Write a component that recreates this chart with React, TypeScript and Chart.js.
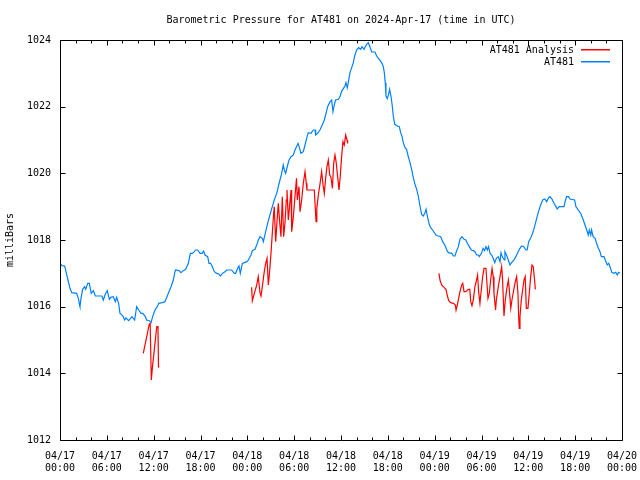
import React, { useEffect, useRef } from "react";
import { Chart, registerables } from "chart.js";

Chart.register(...registerables);

const TITLE = "Barometric Pressure for AT481 on 2024-Apr-17 (time in UTC)";
const Y_TITLE = "milliBars";
const SERIES_ANALYSIS = "AT481 Analysis";
const SERIES_OBS = "AT481";

const X_TICK_DATES = ["04/17", "04/17", "04/17", "04/17", "04/18", "04/18", "04/18", "04/18", "04/19", "04/19", "04/19", "04/19", "04/20"];
const X_TICK_TIMES = ["00:00", "06:00", "12:00", "18:00", "00:00", "06:00", "12:00", "18:00", "00:00", "06:00", "12:00", "18:00", "00:00"];
const X_MIN = 0;
const X_MAX = 72;
const X_STEP = 6;
const X_MINOR_STEP = 2;
const Y_MIN = 1012;
const Y_MAX = 1024;
const Y_STEP = 2;

// Observed pressure (hours since 04/17 00:00 UTC, mb)
const obsHours = [
  0, 0.26, 0.6, 0.77, 1.02, 1.28, 1.5, 2.13, 2.39, 2.5, 2.56, 2.69, 2.9, 3.16, 3.3, 3.55, 3.76, 4.0, 4.27, 4.53,
  5.38, 5.55, 5.81, 6.06, 6.32, 6.5, 6.83, 7.09, 7.26, 7.51, 7.69, 8.03, 8.28, 8.45, 8.8, 9.22, 9.56, 9.82, 10.08, 10.38,
  10.6, 10.93, 11.1, 11.44, 11.66, 11.87, 12.21, 12.51, 12.64, 13.1, 13.45, 13.71, 13.96, 14.22, 14.52, 14.73, 14.82, 15.24, 15.5, 15.8,
  16.1, 16.44, 16.7, 16.96, 17.21, 17.38, 17.64, 17.94, 18.2, 18.4, 18.57, 18.92, 19.09, 19.3, 19.52, 19.77, 20.07, 20.35, 20.54, 20.8,
  21.14, 21.35, 22.0, 22.33, 22.5, 22.76, 22.93, 23.1, 23.36, 23.7, 23.96, 24.13, 24.47, 24.64, 24.98, 25.2, 25.41, 25.62, 25.92, 26.05,
  26.35, 26.6, 26.9, 27.2, 27.45, 27.76, 27.97, 28.18, 28.4, 28.6, 28.74, 28.91, 29.17, 29.34, 29.6, 29.9, 30.1, 30.3, 30.5, 30.7,
  30.87, 31.17, 31.39, 31.6, 31.8, 32.15, 32.45, 32.67, 32.76, 33.0, 33.3, 33.6, 33.86, 34.03, 34.29, 34.6, 34.8, 34.97, 35.14, 35.3,
  35.66, 35.87, 36.08, 36.3, 36.5, 36.64, 36.8, 36.93, 37.15, 37.37, 37.58, 37.75, 38.0, 38.26, 38.52, 38.69, 38.95, 39.1, 39.3, 39.5,
  39.7, 39.93, 40.35, 40.57, 40.9, 41.2, 41.4, 41.55, 41.67, 41.76, 41.93, 42.1, 42.23, 42.4, 42.57, 42.7, 42.88, 43.2, 43.47, 43.64,
  43.8, 43.98, 44.2, 44.4, 44.6, 44.84, 45.05, 45.26, 45.48, 45.7, 45.9, 46.12, 46.33, 46.55, 46.76, 46.9, 47.05, 47.3, 47.5, 47.82,
  48.17, 48.46, 48.77, 49.03, 49.3, 49.55, 49.75, 50.2, 50.4, 50.6, 50.82, 51.03, 51.24, 51.5, 51.76, 52.0, 52.18, 52.44, 52.7, 52.95,
  53.16, 53.37, 53.6, 53.72, 54.0, 54.2, 54.4, 54.57, 54.75, 54.9, 55.1, 55.3, 55.5, 55.7, 55.9, 56.15, 56.37, 56.5, 56.7, 56.93,
  57.0, 57.2, 57.43, 57.65, 57.85, 58.16, 58.4, 58.7, 58.93, 59.14, 59.4, 59.7, 59.85, 60.04, 60.3, 60.55, 60.8, 61.07, 61.3, 61.58,
  61.84, 62.13, 62.35, 62.6, 62.77, 63.03, 63.29, 63.54, 63.7, 63.96, 64.57, 64.73, 64.9, 65.16, 65.33, 65.93, 66.1, 66.4, 66.7, 66.96,
  67.26, 67.48, 67.68, 67.81, 68.0, 68.1, 68.3, 68.55, 68.74, 68.95, 69.18, 69.35, 69.7, 69.86, 70.1, 70.3, 70.46, 70.7, 70.97, 71.2,
  71.4, 71.55, 71.74,
];
const obsMb = [
  1017.3, 1017.23, 1017.22, 1017.05, 1016.8, 1016.55, 1016.42, 1016.4, 1016.22, 1016.05, 1016.0, 1016.25, 1016.52, 1016.6, 1016.52, 1016.7, 1016.7, 1016.4, 1016.48, 1016.32,
  1016.32, 1016.2, 1016.38, 1016.48, 1016.22, 1016.28, 1016.3, 1016.15, 1016.28, 1016.1, 1015.8, 1015.73, 1015.6, 1015.66, 1015.58, 1015.7, 1015.6, 1016.0, 1015.9, 1015.8,
  1015.8, 1015.7, 1015.6, 1015.58, 1015.52, 1015.7, 1015.92, 1016.02, 1016.1, 1016.12, 1016.15, 1016.3, 1016.45, 1016.6, 1016.8, 1017.05, 1017.1, 1017.08, 1017.02, 1017.08,
  1017.12, 1017.3, 1017.6, 1017.6, 1017.65, 1017.7, 1017.7, 1017.6, 1017.6, 1017.67, 1017.55, 1017.5, 1017.3, 1017.3, 1017.2, 1017.05, 1017.0, 1016.98, 1016.92, 1017.0,
  1017.05, 1017.1, 1017.1, 1017.0, 1017.0, 1017.15, 1017.22, 1017.0, 1017.3, 1017.33, 1017.35, 1017.4, 1017.55, 1017.68, 1017.72, 1017.85, 1018.0, 1018.1, 1018.05, 1017.95,
  1018.25, 1018.5, 1018.75, 1019.0, 1019.2, 1019.4, 1019.6, 1019.8, 1020.0, 1020.25, 1020.1, 1020.0, 1020.25, 1020.4, 1020.5, 1020.55, 1020.7, 1020.8, 1020.9, 1020.75,
  1020.6, 1020.65, 1020.85, 1021.05, 1021.22, 1021.2, 1021.3, 1021.3, 1021.15, 1021.2, 1021.3, 1021.45, 1021.6, 1021.75, 1022.0, 1022.15, 1022.2, 1021.85, 1022.05, 1022.2,
  1022.22, 1022.3, 1022.46, 1022.54, 1022.62, 1022.72, 1022.57, 1022.72, 1023.02, 1023.17, 1023.32, 1023.52, 1023.7, 1023.77, 1023.72, 1023.8, 1023.72, 1023.8, 1023.87, 1023.92,
  1023.8, 1023.64, 1023.64, 1023.52, 1023.42, 1023.32, 1023.22, 1023.02, 1022.72, 1022.32, 1022.24, 1022.37, 1022.52, 1022.32, 1022.02, 1021.72, 1021.47, 1021.42, 1021.4, 1021.22,
  1021.12, 1020.92, 1020.77, 1020.72, 1020.52, 1020.32, 1020.12, 1019.87, 1019.67, 1019.52, 1019.32, 1019.02, 1018.77, 1018.72, 1018.82, 1018.92, 1018.72, 1018.47, 1018.37, 1018.27,
  1018.15, 1018.12, 1018.1, 1017.95, 1017.85, 1017.7, 1017.62, 1017.6, 1017.52, 1017.52, 1017.68, 1017.8, 1018.02, 1018.1, 1018.02, 1018.0, 1017.9, 1017.8, 1017.7, 1017.68,
  1017.65, 1017.55, 1017.55, 1017.5, 1017.6, 1017.75, 1017.68, 1017.8, 1017.7, 1017.8, 1017.6, 1017.55, 1017.45, 1017.32, 1017.45, 1017.5, 1017.35, 1017.62, 1017.48, 1017.4,
  1017.65, 1017.55, 1017.4, 1017.25, 1017.32, 1017.4, 1017.5, 1017.65, 1017.75, 1017.82, 1017.8, 1017.7, 1017.7, 1017.95, 1018.06, 1018.2, 1018.4, 1018.65, 1018.85, 1019.05,
  1019.2, 1019.23, 1019.15, 1019.27, 1019.3, 1019.23, 1019.1, 1019.0, 1018.93, 1019.0, 1019.0, 1019.17, 1019.3, 1019.3, 1019.23, 1019.2, 1019.0, 1018.9, 1018.8, 1018.65,
  1018.45, 1018.3, 1018.15, 1018.3, 1018.15, 1018.3, 1018.1, 1018.05, 1017.9, 1017.77, 1017.65, 1017.5, 1017.5, 1017.4, 1017.25, 1017.3, 1017.2, 1017.03, 1017.0, 1017.03,
  1016.95, 1017.03, 1017.0,
];

// Analysis runs (three separate segments)
const anaHours1 = [10.67, 11.44, 11.55, 11.7, 11.85, 12.4, 12.55, 12.62, 12.7];
const anaMb1 = [1014.6, 1015.48, 1015.5, 1013.8, 1014.2, 1015.4, 1015.4, 1014.2, 1014.22];

const anaHours2 = [
  24.55, 24.64, 24.9, 25.2, 25.4, 25.62, 25.75, 25.92, 26.17, 26.35, 26.52, 26.69, 26.8, 27.03, 27.2, 27.37, 27.45, 27.63, 27.8, 27.97,
  28.14, 28.31, 28.48, 28.65, 28.82, 28.99, 29.08, 29.25, 29.3, 29.6, 29.68, 29.9, 30.1, 30.3, 30.4, 30.62, 30.75, 30.96, 31.17, 31.39,
  31.55, 31.64, 31.8, 32.58, 32.67, 32.8, 32.9, 33.1, 33.35, 33.52, 33.7, 33.86, 34.03, 34.2, 34.38, 34.55, 34.7, 34.9, 35.06, 35.23,
  35.4, 35.57, 35.74, 35.9, 36.08, 36.25, 36.42, 36.6, 36.77, 36.85,
];
const anaMb2 = [
  1016.58, 1016.18, 1016.4, 1016.65, 1016.9, 1016.42, 1016.32, 1016.6, 1017.05, 1017.3, 1017.45, 1016.65, 1016.9, 1017.6, 1018.2, 1018.8, 1019.0, 1017.95, 1018.55, 1019.1,
  1018.55, 1018.1, 1019.3, 1018.1, 1018.5, 1019.2, 1019.5, 1018.6, 1018.6, 1019.5, 1018.25, 1018.7, 1019.3, 1019.85, 1019.2, 1019.6, 1018.85, 1019.2, 1019.7, 1020.05,
  1019.7, 1019.5, 1019.5, 1019.5, 1019.1, 1018.55, 1018.95, 1019.35, 1019.75, 1020.05, 1019.65, 1019.4, 1019.85, 1020.2, 1020.4, 1019.95, 1019.9, 1019.55, 1020.3, 1020.55,
  1020.3, 1019.9, 1019.5, 1019.9, 1020.5, 1020.95, 1020.85, 1021.15, 1021.0, 1020.9,
];

const anaHours3 = [
  48.55, 48.68, 48.9, 49.2, 49.45, 49.6, 49.8, 50.05, 50.4, 50.65, 50.74, 50.9, 51.07, 51.24, 51.46, 51.6, 51.76, 52.0, 52.3, 52.5,
  52.62, 52.78, 52.95, 53.16, 53.37, 53.5, 53.63, 53.8, 53.97, 54.15, 54.32, 54.57, 54.67, 54.83, 55.0, 55.17, 55.35, 55.5, 55.6, 55.8,
  55.9, 56.15, 56.37, 56.58, 56.7, 56.88, 57.05, 57.25, 57.44, 57.55, 57.75, 57.9, 58.16, 58.33, 58.5, 58.67, 58.76, 58.84, 58.93, 59.1,
  59.27, 59.45, 59.6, 59.74, 59.95, 60.12, 60.3, 60.47, 60.63, 60.8, 60.9,
];
const anaMb3 = [
  1017.0, 1016.8, 1016.65, 1016.58, 1016.52, 1016.35, 1016.18, 1016.12, 1016.1, 1016.05, 1015.9, 1016.05, 1016.25, 1016.45, 1016.65, 1016.7, 1016.45, 1016.45, 1016.52, 1016.52,
  1016.15, 1016.03, 1016.2, 1016.6, 1016.8, 1016.95, 1016.45, 1016.1, 1016.5, 1016.9, 1017.15, 1017.15, 1016.8, 1016.25, 1016.4, 1016.8, 1017.15, 1016.9, 1016.4, 1015.9,
  1016.2, 1016.6, 1016.9, 1017.2, 1016.8, 1015.72, 1016.2, 1016.55, 1016.8, 1016.55, 1015.95, 1016.2, 1016.55, 1016.75, 1016.9, 1016.4, 1015.7, 1015.35, 1015.7, 1016.2,
  1016.5, 1016.8, 1016.9, 1015.95, 1015.95, 1016.4, 1016.9, 1017.25, 1017.2, 1016.8, 1016.52,
];

const OBS_COLOR = "rgb(0,128,255)";
const ANA_COLOR = "rgb(255,0,0)";
const FONT_FAMILY = "'DejaVu Sans Mono', 'Liberation Mono', monospace";

function toPoints(xs: number[], ys: number[]) {
  return xs.map((x, i) => ({ x, y: ys[i] as number | null }));
}

function joinSegments(segs: { x: number; y: number | null }[][]) {
  const out: { x: number; y: number | null }[] = [];
  segs.forEach((s, i) => {
    if (i > 0) out.push({ x: s[0].x, y: null });
    out.push(...s);
  });
  return out;
}

const framePlugin = {
  id: "gnuplotFrame",
  afterDraw(chart: any) {
    const { ctx, chartArea: a, scales } = chart;
    const xs = scales.x;
    const ys = scales.y;
    const L = Math.round(a.left) + 0.5;
    const R = Math.round(a.right) + 0.5;
    const T = Math.round(a.top) + 0.5;
    const B = Math.round(a.bottom) + 0.5;
    ctx.save();
    ctx.strokeStyle = "#000";
    ctx.lineWidth = 1;
    ctx.beginPath();
    ctx.rect(L, T, R - L, B - T);
    for (let v = Y_MIN; v <= Y_MAX; v += Y_STEP) {
      const py = Math.round(ys.getPixelForValue(v)) + 0.5;
      ctx.moveTo(L, py);
      ctx.lineTo(L + 5, py);
      ctx.moveTo(R, py);
      ctx.lineTo(R - 5, py);
    }
    for (let v = X_MIN; v <= X_MAX; v += X_MINOR_STEP) {
      const px = Math.round(xs.getPixelForValue(v)) + 0.5;
      const len = v % X_STEP === 0 ? 5 : 3;
      ctx.moveTo(px, B);
      ctx.lineTo(px, B - len);
      ctx.moveTo(px, T);
      ctx.lineTo(px, T + len);
    }
    ctx.stroke();

    ctx.font = "10px " + FONT_FAMILY;
    ctx.textAlign = "right";
    ctx.textBaseline = "middle";
    const rows = [
      { label: SERIES_ANALYSIS, color: ANA_COLOR },
      { label: SERIES_OBS, color: OBS_COLOR },
    ];
    rows.forEach((r, i) => {
      const y = Math.round(a.top) + 10 + i * 12;
      ctx.fillStyle = "#000";
      ctx.fillText(r.label, a.right - 48, y);
      ctx.fillStyle = r.color;
      ctx.fillRect(Math.round(a.right) - 41, y - 1, 29, 1.5);
    });
    ctx.restore();
  },
};

export default function App() {
  const ref = useRef<HTMLCanvasElement | null>(null);
  useEffect(() => {
    if (!ref.current) return;
    const font = { family: FONT_FAMILY, size: 10, weight: "normal" as const };
    const chart = new Chart(ref.current, {
      type: "line",
      data: {
        datasets: [
          {
            label: SERIES_ANALYSIS,
            data: joinSegments([
              toPoints(anaHours1, anaMb1),
              toPoints(anaHours2, anaMb2),
              toPoints(anaHours3, anaMb3),
            ]),
            borderColor: ANA_COLOR,
            borderWidth: 1.2,
            pointRadius: 0,
            tension: 0,
            spanGaps: false,
          },
          {
            label: SERIES_OBS,
            data: toPoints(obsHours, obsMb),
            borderColor: OBS_COLOR,
            borderWidth: 1.2,
            pointRadius: 0,
            tension: 0,
          },
        ],
      },
      options: {
        responsive: false,
        animation: false,
        events: [],
        layout: { padding: { left: 0, right: 18, top: 0, bottom: 0 } },
        plugins: {
          legend: { display: false },
          tooltip: { enabled: false },
          title: {
            display: true,
            text: TITLE,
            fullSize: false,
            color: "#000",
            font,
            padding: { top: 14, bottom: 14 },
          },
        },
        scales: {
          x: {
            type: "linear",
            min: X_MIN,
            max: X_MAX,
            afterFit: (s: any) => {
              s.height = 40;
              s.paddingLeft = 0;
              s.paddingRight = 0;
            },
            grid: { display: false, drawTicks: false },
            border: { display: false },
            ticks: {
              stepSize: X_STEP,
              autoSkip: false,
              maxRotation: 0,
              padding: 10,
              color: "#000",
              font,
              callback: (v: any) => {
                const i = Math.round((Number(v) - X_MIN) / X_STEP);
                return [X_TICK_DATES[i], X_TICK_TIMES[i]];
              },
            },
          },
          y: {
            type: "linear",
            min: Y_MIN,
            max: Y_MAX,
            afterFit: (s: any) => {
              s.width = 60;
              s.paddingTop = 0;
              s.paddingBottom = 0;
            },
            grid: { display: false, drawTicks: false },
            border: { display: false },
            ticks: {
              stepSize: Y_STEP,
              padding: 9,
              color: "#000",
              font,
              callback: (v: any) => String(v),
            },
            title: {
              display: true,
              text: Y_TITLE,
              color: "#000",
              font,
              padding: { top: 4, bottom: 0 },
            },
          },
        },
      },
      plugins: [framePlugin],
    } as any);
    return () => chart.destroy();
  }, []);
  return (
    <div style={{ position: "fixed", left: 0, top: 0, width: 640, height: 480, background: "#fff" }}>
      <canvas ref={ref} width={640} height={480} style={{ width: 640, height: 480 }} />
    </div>
  );
}
